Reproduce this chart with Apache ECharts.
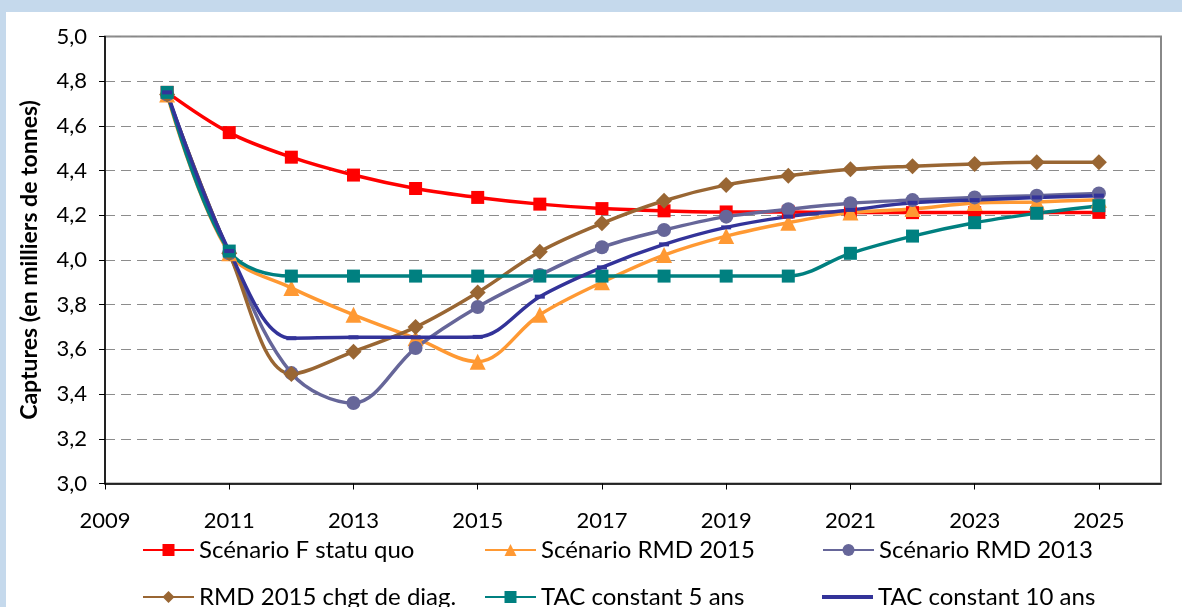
<!DOCTYPE html>
<html>
<head>
<meta charset="utf-8">
<script src="https://cdn.jsdelivr.net/npm/echarts@6/dist/echarts.min.js"></script>
<style>
  html, body { margin: 0; padding: 0; background: #c5d9ec; }
  #chart { position: absolute; left: 6px; top: 12px; width: 1176px; height: 595px; background: #fff; }
</style>
</head>
<body>
<div id="chart"></div>
<script>
const years = [2010, 2011, 2012, 2013, 2014, 2015, 2016, 2017, 2018, 2019, 2020, 2021, 2022, 2023, 2024, 2025];

const fStatuQuo = [4.75, 4.57, 4.46, 4.38, 4.32, 4.28, 4.25, 4.23, 4.22, 4.215, 4.215, 4.212, 4.212, 4.212, 4.212, 4.213];
const rmd2015 = [4.74, 4.03, 3.875, 3.755, 3.65, 3.545, 3.755, 3.90, 4.022, 4.107, 4.167, 4.212, 4.228, 4.255, 4.26, 4.27];
const rmd2013 = [4.74, 4.03, 3.494, 3.36, 3.606, 3.79, 3.933, 4.057, 4.134, 4.194, 4.227, 4.254, 4.268, 4.28, 4.288, 4.298];
const rmd2015Diag = [4.74, 4.03, 3.49, 3.59, 3.70, 3.855, 4.037, 4.164, 4.265, 4.336, 4.377, 4.406, 4.42, 4.43, 4.437, 4.437];
const tac5 = [4.75, 4.04, 3.928, 3.928, 3.928, 3.928, 3.928, 3.928, 3.928, 3.928, 3.928, 4.03, 4.107, 4.167, 4.209, 4.243];
const tac10 = [4.75, 4.04, 3.65, 3.654, 3.654, 3.656, 3.836, 3.967, 4.07, 4.146, 4.194, 4.224, 4.256, 4.268, 4.28, 4.288];

const seriesDefs = [
  { name: 'Scénario F statu quo', data: fStatuQuo, color: '#ff0000', symbol: 'rect', symbolSize: 13 },
  { name: 'Scénario RMD 2015', data: rmd2015, color: '#ff9933', symbol: 'triangle', symbolSize: 16 },
  { name: 'Scénario RMD 2013', data: rmd2013, color: '#666699', symbol: 'circle', symbolSize: 14 },
  { name: 'RMD 2015 chgt de diag.', data: rmd2015Diag, color: '#996633', symbol: 'diamond', symbolSize: 16 },
  { name: 'TAC constant 5 ans', data: tac5, color: '#008080', symbol: 'rect', symbolSize: 13 },
  { name: 'TAC constant 10 ans', data: tac10, color: '#333399', symbol: 'rect', symbolSize: [10, 4] },
];

const font = 'Lato, "Open Sans", sans-serif';
const legendCols = [136, 478, 816];
const legendRows = [526, 573];

const myChart = echarts.init(document.getElementById('chart'));

const option = {
  animation: false,
  textStyle: { fontFamily: font },
  grid: {
    left: 99,
    right: 21,
    top: 24.5,
    bottom: 123.5,
    show: true,
    borderColor: '#888888',
    borderWidth: 2,
  },
  legend: seriesDefs.map((s, i) => {
    const dash = s.name === 'TAC constant 10 ans';
    return {
      data: [dash ? { name: s.name, icon: 'rect' } : s.name],
      left: legendCols[i % 3],
      top: legendRows[Math.floor(i / 3)] + (dash ? 0 : 0),
      padding: 0,
      itemWidth: 51,
      itemHeight: dash ? 4 : 15,
      textStyle: { fontSize: 24, color: '#000', fontFamily: font },
    };
  }),
  xAxis: {
    type: 'value',
    min: 2009,
    max: 2026,
    interval: 2,
    axisLine: { show: true, onZero: false, lineStyle: { color: '#000', width: 1.5 } },
    axisTick: { show: true, length: 6, lineStyle: { color: '#000' } },
    axisLabel: {
      showMaxLabel: false,
      fontSize: 22,
      color: '#000',
      margin: 26,
      formatter: (v) => String(v),
    },
    splitLine: { show: false },
  },
  yAxis: {
    type: 'value',
    min: 3.0,
    max: 5.0,
    interval: 0.2,
    name: 'Captures (en milliers de tonnes)',
    nameLocation: 'middle',
    nameGap: 64,
    nameTextStyle: { fontSize: 23, fontWeight: 'bold', color: '#000' },
    axisLine: { show: true, lineStyle: { color: '#000', width: 1.5 } },
    axisTick: { show: true, length: 6, lineStyle: { color: '#000' } },
    axisLabel: {
      fontSize: 22,
      color: '#000',
      margin: 18,
      formatter: (v) => v.toFixed(1).replace('.', ','),
    },
    splitLine: { show: true, lineStyle: { color: '#8c8c8c', type: [10, 6], width: 1.2 } },
  },
  series: seriesDefs.map((s) => ({
    name: s.name,
    type: 'line',
    smooth: 0.35,
    data: years.map((y, i) => [y, s.data[i]]),
    symbol: s.symbol,
    symbolSize: s.symbolSize,
    showAllSymbol: true,
    lineStyle: { color: s.color, width: 3.5 },
    itemStyle: { color: s.color, borderWidth: 0 },
  })),
};

myChart.setOption(option);
</script>
</body>
</html>
